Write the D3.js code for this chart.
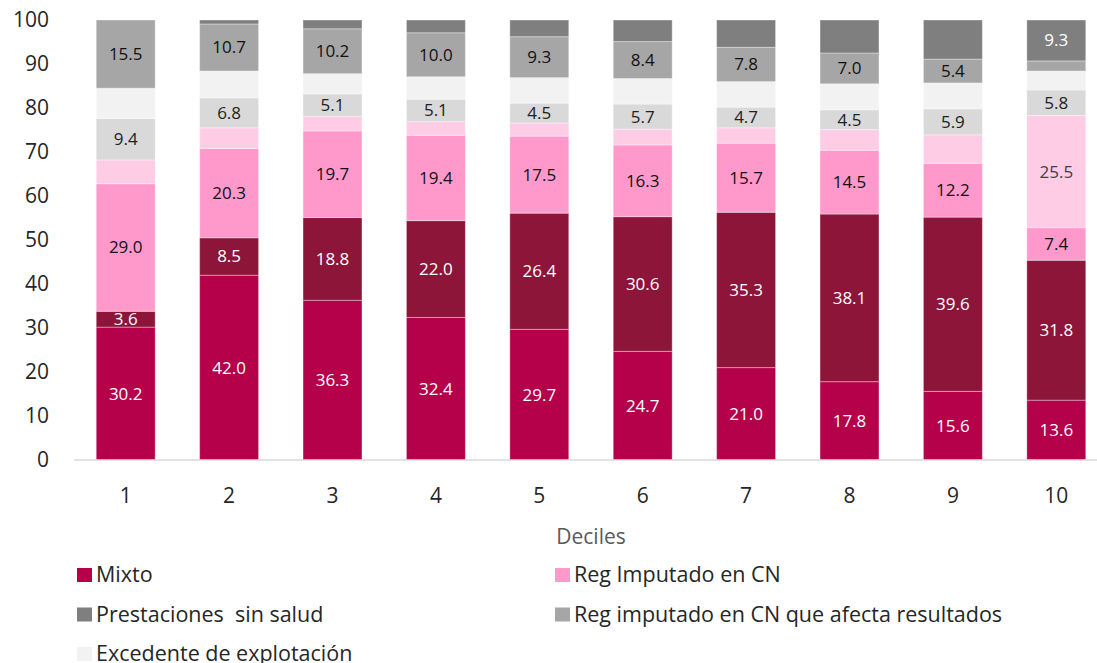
<!DOCTYPE html>
<meta charset="UTF-8">
<style>
body { margin: 0; background: #fff; }
svg text { font-family: "Open Sans", "Noto Sans", sans-serif; }
.tick { font-size: 21px; fill: #262626; }
.lbl { font-size: 17px; }
.legend { font-size: 21.5px; fill: #262626; white-space: pre; }
</style>
<svg width="1097" height="663"></svg>
<script src="https://d3js.org/d3.v7.min.js"></script>
<script>
// deciles and stacked shares (% of total), bottom to top
var deciles = ["1", "2", "3", "4", "5", "6", "7", "8", "9", "10"]
var mixto         = [30.2, 42.0, 36.3, 32.4, 29.7, 24.7, 21.0, 17.8, 15.6, 13.6]
var asalariado    = [3.6, 8.5, 18.8, 22.0, 26.4, 30.6, 35.3, 38.1, 39.6, 31.8]
var regImputado   = [29.0, 20.3, 19.7, 19.4, 17.5, 16.3, 15.7, 14.5, 12.2, 7.4]
var regImputado2  = [5.4, 4.7, 3.3, 3.1, 3.0, 3.6, 3.5, 4.7, 6.5, 25.5]
var otros         = [9.4, 6.8, 5.1, 5.1, 4.5, 5.7, 4.7, 4.5, 5.9, 5.8]
var excedente     = [6.9, 6.1, 4.6, 5.1, 5.8, 5.8, 5.8, 5.9, 5.9, 4.3]
var regAfecta     = [15.5, 10.7, 10.2, 10.0, 9.3, 8.4, 7.8, 7.0, 5.4, 2.3]
var prestaciones  = [0, 0.9, 2.0, 2.9, 3.8, 4.9, 6.2, 7.5, 8.9, 9.3]
var yTicks = [0, 10, 20, 30, 40, 50, 60, 70, 80, 90, 100]

// label: which deciles carry a data label
var series = [
	{key: "mixto", name: "Mixto", values: mixto, color: "#B5004A", text: "#fff", label: "all"},
	{key: "asal", name: "Asalariado", values: asalariado, color: "#8C1539", text: "#fff", label: "all"},
	{key: "reg", name: "Reg Imputado en CN", values: regImputado, color: "#FF99CC", text: "#111", label: "all"},
	{key: "reg2", name: "Reg imputado en CN (otros)", values: regImputado2, color: "#FFCCE6", text: "#404040", label: [9]},
	{key: "otros", name: "Otros", values: otros, color: "#D9D9D9", text: "#222", label: "all"},
	{key: "exc", name: "Excedente de explotación", values: excedente, color: "#F2F2F2", text: "#222", label: []},
	{key: "res", name: "Reg imputado en CN que afecta resultados", values: regAfecta, color: "#A6A6A6", text: "#111", label: [0,1,2,3,4,5,6,7,8]},
	{key: "prest", name: "Prestaciones  sin salud", values: prestaciones, color: "#7F7F7F", text: "#fff", label: [9]}
]
var legendOrder = ["mixto", "reg", "prest", "res", "exc"]

var svg = d3.select("svg")

var x = d3.scaleBand().domain(deciles).range([74, 1108]).paddingInner(0.43).paddingOuter(0.215)
var y = d3.scaleLinear().domain([0, 100]).range([460, 20])

var rows = deciles.map((d, i) => {
	var r = {decil: d}
	series.forEach(s => r[s.key] = s.values[i])
	return r
})
var stacked = d3.stack().keys(series.map(s => s.key))(rows)

var layers = svg.append("g").selectAll("g")
	.data(stacked)
	.enter().append("g")
	.attr("fill", (d, i) => series[i].color)

layers.selectAll("rect")
	.data(d => d)
	.enter().append("rect")
	.attr("x", d => x(d.data.decil))
	.attr("width", x.bandwidth())
	.attr("y", d => y(d[1]))
	.attr("height", d => y(d[0]) - y(d[1]))
	.style("stroke", "#fff")
	.style("stroke-opacity", 0.35)
	.style("stroke-width", 1)

// data labels
stacked.forEach((layer, si) => {
	var s = series[si]
	layer.forEach((d, i) => {
		if (s.label !== "all" && s.label.indexOf(i) < 0) return
		if (d[1] - d[0] <= 0) return
		svg.append("text")
			.attr("class", "lbl")
			.attr("x", x(d.data.decil) + x.bandwidth() / 2)
			.attr("y", y((d[0] + d[1]) / 2))
			.attr("dy", "0.35em")
			.attr("text-anchor", "middle")
			.style("fill", s.text)
			.text(d3.format(".1f")(s.values[i]))
	})
})

// axis line
svg.append("line")
	.attr("x1", 74).attr("x2", 1097)
	.attr("y1", y(0)).attr("y2", y(0))
	.style("stroke", "#D9D9D9").style("stroke-width", 1.5)

svg.append("g").selectAll("text")
	.data(yTicks)
	.enter().append("text")
	.attr("class", "tick")
	.attr("x", 49)
	.attr("y", d => y(d))
	.attr("dy", "0.35em")
	.attr("text-anchor", "end")
	.text(d => d)

svg.append("g").selectAll("text")
	.data(deciles)
	.enter().append("text")
	.attr("class", "tick")
	.attr("x", d => x(d) + x.bandwidth() / 2)
	.attr("y", 503)
	.attr("text-anchor", "middle")
	.text(d => d)

svg.append("text")
	.attr("x", 591).attr("y", 544)
	.attr("text-anchor", "middle")
	.style("font-size", "21px").style("fill", "#595959")
	.text("Deciles")

// legend, two columns
var leg = svg.append("g").selectAll("g")
	.data(legendOrder.map(k => series.find(s => s.key == k)))
	.enter().append("g")
	.attr("transform", (d, i) => "translate(" + (i % 2 ? 555 : 77) + "," + (582 + Math.floor(i / 2) * 39.5) + ")")

leg.append("rect")
	.attr("y", -14).attr("width", 15).attr("height", 14)
	.attr("fill", d => d.color)

leg.append("text")
	.attr("class", "legend")
	.attr("x", 19)
	.text(d => d.name)
</script>
